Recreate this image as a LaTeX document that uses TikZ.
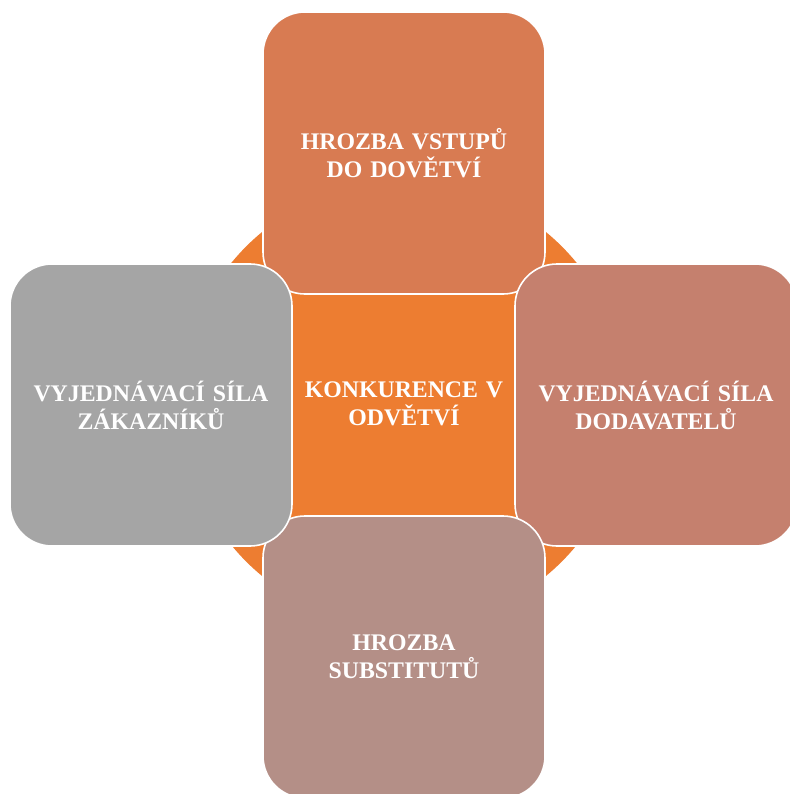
\documentclass[tikz,border=0pt]{standalone}
\usepackage{fontspec}
\setmainfont{Liberation Serif}
\definecolor{hub}{HTML}{ED7D31}
\definecolor{entry}{HTML}{D87B52}
\definecolor{buyer}{HTML}{A5A5A5}
\definecolor{supplier}{HTML}{C5806E}
\definecolor{subst}{HTML}{B48F87}
\begin{document}
\begin{tikzpicture}[x=1pt,y=-1pt]
\tikzset{force/.style={rectangle,rounded corners=42pt,draw=white,line width=1.6pt,
           minimum width=282pt,minimum height=282pt,inner sep=0pt},
         core/.style={circle,fill=hub,draw=none,minimum size=446pt,inner sep=0pt},
         txt/.style={draw=none,fill=none,text=white,align=center,text width=276pt,
           font=\fontsize{23.8}{28}\selectfont\bfseries}}
\useasboundingbox (0,0) rectangle (789,794);
\node[core] (hubc) at (404,404) {};
\node[force,fill=entry] (top) at (404,153) {};
\node[force,fill=supplier] (right) at (656,405) {};
\node[force,fill=subst] (bottom) at (404,657) {};
\node[force,fill=buyer] (left) at (151,405) {};
\node[txt] (toplab) at (top) {HROZBA VSTUPŮ\\DO DOVĚTVÍ};
\node[txt] (rightlab) at (right) {VYJEDNÁVACÍ SÍLA\\DODAVATELŮ};
\node[txt] (bottomlab) at (bottom) {HROZBA\\SUBSTITUTŮ};
\node[txt] (leftlab) at (left) {VYJEDNÁVACÍ SÍLA\\ZÁKAZNÍKŮ};
\node[txt] (hublab) at (404,404) {KONKURENCE V\\ODVĚTVÍ};
\end{tikzpicture}
\end{document}
